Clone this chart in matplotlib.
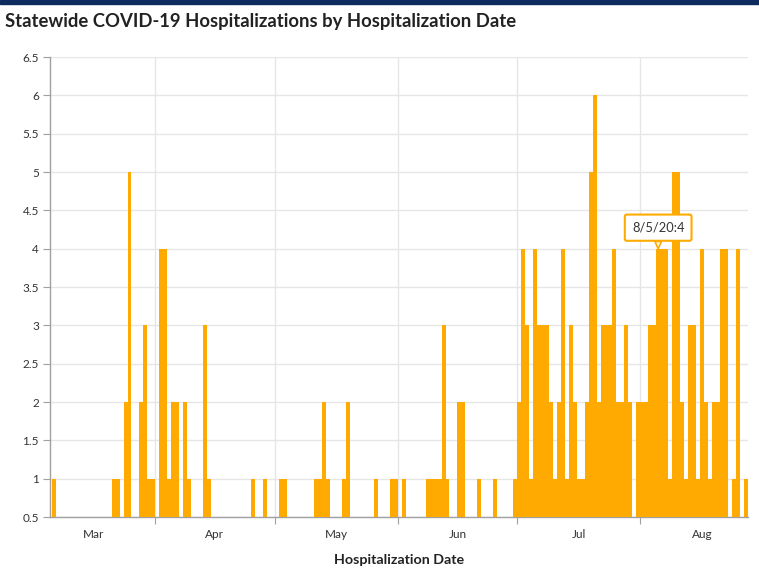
import numpy as np
import matplotlib
matplotlib.use("Agg")
import matplotlib.pyplot as plt
import matplotlib.dates as mdates
from matplotlib.patches import Rectangle

# -----------------------------------------------------------------------------
# Data: daily hospitalizations, one value per day starting 2020-03-06
# -----------------------------------------------------------------------------
start_date = "2020-03-06"
daily_counts = [
    1, 0, 0, 0, 0, 0, 0, 0, 0, 0, 0, 0, 0, 0, 0, 1, 1, 0, 2, 5,   # Mar 6 - Mar 25
    0, 0, 2, 3, 1, 1, 0, 4, 4, 1, 2, 2, 0, 2, 1, 0, 0, 0, 3, 1,   # Mar 26 - Apr 14
    0, 0, 0, 0, 0, 0, 0, 0, 0, 0, 1, 0, 0, 1, 0, 0, 0, 1, 1, 0,   # Apr 15 - May 4
    0, 0, 0, 0, 0, 0, 1, 1, 2, 1, 0, 0, 0, 1, 2, 0, 0, 0, 0, 0,   # May 5 - May 24
    0, 1, 0, 0, 0, 1, 1, 0, 1, 0, 0, 0, 0, 0, 1, 1, 1, 1, 3, 1,   # May 25 - Jun 13
    0, 0, 2, 2, 0, 0, 0, 1, 0, 0, 0, 1, 0, 0, 0, 0, 1, 2, 4, 3,   # Jun 14 - Jul 3
    1, 4, 3, 3, 3, 2, 1, 2, 4, 1, 3, 2, 1, 1, 2, 5, 6, 2, 3, 3,   # Jul 4 - Jul 23
    3, 4, 2, 2, 3, 2, 0, 2, 2, 2, 3, 3, 4, 4, 4, 1, 5, 5, 2, 1,   # Jul 24 - Aug 12
    3, 3, 1, 4, 2, 1, 2, 2, 4, 4, 0, 1, 4, 0, 1,                  # Aug 13 - Aug 27
]
month_labels = ["Mar", "Apr", "May", "Jun", "Jul", "Aug"]
month_starts = ["2020-03-01", "2020-04-01", "2020-05-01", "2020-06-01",
                "2020-07-01", "2020-08-01", "2020-09-01"]
y_ticks = [0.5, 1, 1.5, 2, 2.5, 3, 3.5, 4, 4.5, 5, 5.5, 6, 6.5]
tooltip_date = "2020-08-05"
tooltip_value = 4

dates = np.arange(np.datetime64(start_date), np.datetime64(start_date) + len(daily_counts))
x_days = mdates.date2num(dates.astype("datetime64[D]").astype(object))
month_nums = mdates.date2num(np.array(month_starts, dtype="datetime64[D]").astype(object))

bar_color = "#ffaa00"
grid_color = "#e6e6e6"
axis_color = "#a0a0a0"
text_color = "#333333"

plt.rcParams["font.family"] = ["Lato", "DejaVu Sans"]

fig = plt.figure(figsize=(7.59, 5.73), dpi=100)
fig.patches.append(Rectangle((0, 1 - 4 / 573), 1, 4 / 573, transform=fig.transFigure,
                             color="#0d2b5e", zorder=10))
fig.text(5 / 759, 1 - 21 / 573, "Statewide COVID-19 Hospitalizations by Hospitalization Date",
         fontsize=13.3, fontweight="bold", color="#222222", va="center", ha="left")

ax = fig.add_axes([50 / 759, 1 - 517 / 573, 698 / 759, 460 / 573])

# -----------------------------------------------------------------------------
# Bars
# -----------------------------------------------------------------------------
ax.bar(x_days, daily_counts, width=1.0, align="edge", color=bar_color, linewidth=0, zorder=3)

ax.set_xlim(x_days[0] - 0.5, x_days[-1] + 1.1)
ax.set_ylim(0.5, 6.5)

# y axis
ax.set_yticks(y_ticks)
ax.set_yticklabels([f"{v:g}" for v in y_ticks])
ax.tick_params(axis="y", length=5, color=axis_color, labelsize=8.5, labelcolor=text_color, pad=3)
ax.grid(axis="y", color=grid_color, linewidth=1, zorder=0)

# x axis: ticks on month boundaries, labels mid month
ax.set_xticks(month_nums[1:-1])
ax.set_xticklabels([])
ax.set_xticks((month_nums[:-1] + month_nums[1:]) / 2, minor=True)
ax.set_xticklabels(month_labels, minor=True)
ax.tick_params(axis="x", which="major", length=5, color=axis_color)
ax.tick_params(axis="x", which="minor", length=0, labelsize=8.5, labelcolor=text_color, pad=9)
ax.grid(axis="x", which="major", color=grid_color, linewidth=1, zorder=0)
ax.set_axisbelow(True)

for side in ["top", "right"]:
    ax.spines[side].set_visible(False)
for side in ["left", "bottom"]:
    ax.spines[side].set_color(axis_color)
    ax.spines[side].set_linewidth(1)

ax.set_xlabel("Hospitalization Date", fontsize=10.3, fontweight="bold", color="#222222", labelpad=10)

# -----------------------------------------------------------------------------
# Tooltip
# -----------------------------------------------------------------------------
tip_x = mdates.date2num(np.datetime64(tooltip_date).astype(object)) + 0.5
ax.annotate(f"8/5/20:{tooltip_value}", xy=(tip_x, tooltip_value), xytext=(0, 21),
            textcoords="offset pixels", ha="center", va="center", fontsize=9.3, color=text_color,
            bbox=dict(boxstyle="round,pad=0.55,rounding_size=0.15", fc="white", ec=bar_color, lw=1.5),
            arrowprops=dict(arrowstyle="wedge,tail_width=0.5", fc="white", ec=bar_color, lw=1.2,
                            shrinkA=0, shrinkB=0),
            zorder=6)

plt.savefig("out.png", dpi=100)
plt.close()
